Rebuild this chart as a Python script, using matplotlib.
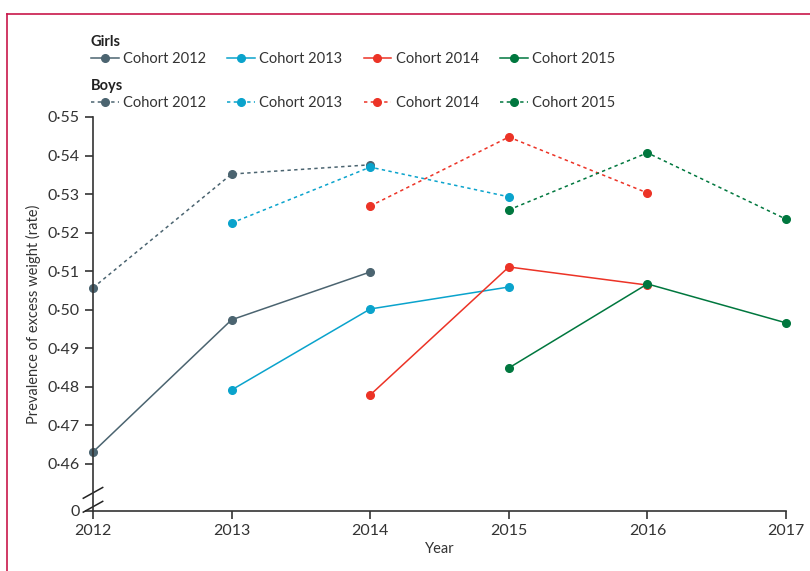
import matplotlib.pyplot as plt
from matplotlib.lines import Line2D

plt.rcParams['font.family'] = ['Lato', 'DejaVu Sans']

years = [2012, 2013, 2014, 2015, 2016, 2017]
cohorts = ["Cohort 2012", "Cohort 2013", "Cohort 2014", "Cohort 2015"]
colors = ["#4b6470", "#0aa3cc", "#ec3326", "#00773e"]

girls_x = [[2012, 2013, 2014], [2013, 2014, 2015], [2014, 2015, 2016], [2015, 2016, 2017]]
girls_y = [[0.4631, 0.4974, 0.5098],
           [0.4792, 0.5002, 0.5059],
           [0.4779, 0.5111, 0.5064],
           [0.4849, 0.5067, 0.4966]]
boys_y = [[0.5057, 0.5352, 0.5376],
          [0.5225, 0.5370, 0.5293],
          [0.5269, 0.5448, 0.5303],
          [0.5259, 0.5407, 0.5235]]

y_ticks = [0.46, 0.47, 0.48, 0.49, 0.50, 0.51, 0.52, 0.53, 0.54, 0.55]
zero_pos = 0.4478  # where the broken axis puts "0"

fig = plt.figure(figsize=(8.1, 5.71), dpi=100)
ax = fig.add_axes([0.1148, 0.1051, 0.8556, 0.69])

for i in range(4):
    ax.plot(girls_x[i], girls_y[i], color=colors[i], lw=1.1, marker='o', ms=5.5, clip_on=False)
    ax.plot(girls_x[i], boys_y[i], color=colors[i], lw=1.1, ls=(0, (2.2, 2.2)),
            marker='o', ms=5.5, clip_on=False)

ax.set_xlim(2012, 2017)
ax.set_ylim(zero_pos, 0.55)
ax.set_xticks(years)
ax.set_yticks([zero_pos] + y_ticks)
ax.set_yticklabels(["0"] + [f"{v:.2f}".replace(".", "·") for v in y_ticks])
ax.spines['top'].set_visible(False)
ax.spines['right'].set_visible(False)
for s in ['left', 'bottom']:
    ax.spines[s].set_color('#333333')
    ax.spines[s].set_linewidth(1.2)
ax.tick_params(colors='#333333', labelsize=11.5, length=6, width=1.2)
ax.set_xlabel("Year", fontsize=10.5, color='#333333', labelpad=3)
ax.set_ylabel("Prevalence of excess weight (rate)", fontsize=10.5, color='#333333', labelpad=5)

# break marks on the y axis
for y0 in [0.4525, 0.4489]:
    ax.plot([2012 - 0.07, 2012 + 0.07], [y0 - 0.0014, y0 + 0.0014], color='#222222',
            lw=1.1, clip_on=False)

# legends
girls_h = [Line2D([], [], color=c, lw=1.1, marker='o', ms=5.5) for c in colors]
boys_h = [Line2D([], [], color=c, lw=1.1, ls=(0, (2.2, 2.2)), marker='o', ms=5.5) for c in colors]
for handles, title, ypos in [(girls_h, "Girls", 0.957), (boys_h, "Boys", 0.880)]:
    leg = fig.legend(handles, cohorts, ncol=4, loc='upper left', bbox_to_anchor=(0.0995, ypos),
                     frameon=False, fontsize=10.5, title=title, alignment='left',
                     handlelength=1.9, handletextpad=0.3, columnspacing=1.45,
                     borderpad=0.2, labelspacing=0.2)
    leg.get_title().set_fontweight('bold')
    leg.get_title().set_fontsize(10.5)
    leg.get_title().set_color('#222222')
    for t in leg.get_texts():
        t.set_color('#333333')

# frame
fig.add_artist(Line2D([0.0086, 1.0], [1 - 14 / 571, 1 - 14 / 571], color='#c8174a', lw=1.2))
fig.add_artist(Line2D([0.0086, 0.0086], [0, 1 - 14 / 571], color='#c8174a', lw=1.2))

fig.savefig("out.png", dpi=100)
